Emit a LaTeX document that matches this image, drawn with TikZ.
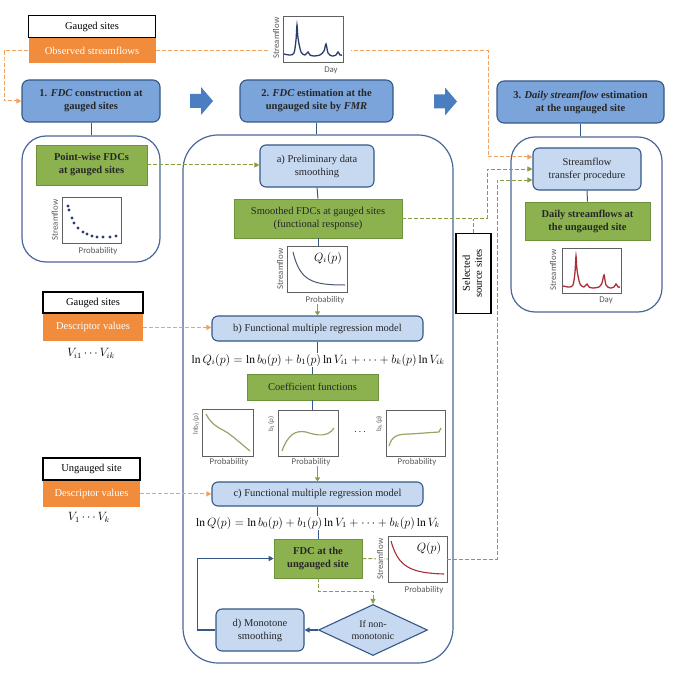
\documentclass[tikz,border=0pt]{standalone}
\usepackage{fontspec}
\usepackage{graphicx}
\setmainfont{Liberation Serif}
\newfontfamily\plotfont{Carlito}
\usetikzlibrary{shapes.geometric,calc,arrows.meta}

\definecolor{blueA}{RGB}{122,164,218}
\definecolor{blueL}{RGB}{198,217,241}
\definecolor{blueB}{RGB}{52,88,135}
\definecolor{contB}{RGB}{72,104,152}
\definecolor{greenF}{RGB}{140,178,80}
\definecolor{greenB}{RGB}{110,145,60}
\definecolor{greenD}{RGB}{135,158,72}
\definecolor{orangeF}{RGB}{240,140,60}
\definecolor{orangeD}{RGB}{240,162,96}
\definecolor{arrowB}{RGB}{74,126,193}
\definecolor{navyC}{RGB}{40,60,110}
\definecolor{redC}{RGB}{168,48,58}
\definecolor{khakiC}{RGB}{160,160,105}
\definecolor{labC}{RGB}{90,90,90}

\tikzset{
  stage/.style={draw=blueB, fill=blueA, line width=1.1pt, rounded corners=7pt,
    align=center, inner sep=2pt, text=black!85,
    font=\fontsize{10.5}{13}\selectfont\bfseries},
  substep/.style={draw=blueB, fill=blueL, line width=1.1pt, rounded corners=6pt,
    align=center, inner sep=2pt, text=black!85, font=\fontsize{10.5}{13}\selectfont},
  result/.style={draw=greenB, fill=greenF, line width=0.6pt, align=center,
    inner sep=2pt, text=black!85, font=\fontsize{10.5}{13}\selectfont},
  sitebox/.style={draw=black, line width=1.4pt, fill=white, inner sep=2pt,
    font=\fontsize{10.5}{13}\selectfont},
  databox/.style={fill=orangeF, text=white, inner sep=2pt,
    font=\fontsize{10.5}{13}\selectfont},
  panel/.style={draw=contB, line width=1.2pt, fill=white},
  frame/.style={draw=gray!75!black, line width=0.7pt, fill=white, inner sep=0pt},
  plotlab/.style={font=\plotfont\fontsize{8.8}{9}\selectfont, text=labC, inner sep=0pt},
  coeflab/.style={font=\plotfont\fontsize{7}{8}\selectfont, text=labC, inner sep=0pt},
  eqn/.style={inner sep=1pt, font=\fontsize{11.5}{13}\selectfont},
  link/.style={draw=blueB, line width=1pt},
  odash/.style={draw=orangeD, line width=1pt, dash pattern=on 4pt off 2pt,
    -{Triangle[length=5pt,width=5pt]}},
  gdash/.style={draw=greenD, line width=1pt, dash pattern=on 4pt off 2pt},
  garrow/.style={draw=greenD, line width=1pt, -{Triangle[length=4pt,width=5pt]}},
  fixarrow/.style={draw=blueB, line width=1.3pt, -{Triangle[length=5pt,width=5pt]}},
}

\begin{document}
\begin{tikzpicture}[x=1pt, y=-1pt]
\useasboundingbox (0,0) rectangle (676,695);

% Gauged sites with observed streamflows (top left)
\node[sitebox, minimum width=127pt, minimum height=22pt] (gsites) at (92,26.5) {Gauged sites};
\node[databox, minimum width=127pt, minimum height=25pt, anchor=north] (obsflow) at (gsites.south) {Observed streamflows};

% Stage titles
\node[stage, minimum width=138pt, minimum height=42pt] (stage1) at (91,101)
  {1. \textit{FDC} construction at\\gauged sites};
\node[stage, minimum width=153pt, minimum height=42pt] (stage2) at (316.5,101)
  {2. \textit{FDC} estimation at the\\ungauged site by \textit{FMR}};
\node[stage, minimum width=167pt, minimum height=42pt] (stage3) at (580.5,102)
  {3. \textit{Daily streamflow} estimation\\at the ungauged site};

% Block arrows between the stages
\fill[arrowB, shift={($(stage1.east)!0.5!(stage2.west)$)}]
  (-10,-7) -- (1,-7) -- (1,-14) -- (13,0) -- (1,14) -- (1,7) -- (-10,7) -- cycle;
\fill[arrowB, shift={($(stage2.east)!0.5!(stage3.west)$)}]
  (-11,-7) -- (0,-7) -- (0,-14) -- (12,0) -- (0,14) -- (0,7) -- (-11,7) -- cycle;

% Panels below the stages
\node[panel, rounded corners=24pt, minimum width=138pt, minimum height=126pt] (fdcpanel) at (91,199) {};
\node[panel, rounded corners=35pt, minimum width=270pt, minimum height=528pt] (estpanel) at (318,399) {};
\node[panel, rounded corners=24pt, minimum width=151pt, minimum height=175pt] (daypanel) at (586.5,224.5) {};
\draw[link] (stage1.south) -- (stage1.south |- fdcpanel.north);
\draw[link] (stage2.south) -- (stage2.south |- estpanel.north);
\draw[link] (stage3.south) -- (stage3.south |- daypanel.north);

% Step 3 boxes
\node[substep, minimum width=108pt, minimum height=42pt] (transfer) at (587,169)
  {Streamflow\\transfer procedure};
\node[result, font=\fontsize{10.5}{13}\selectfont\bfseries, minimum width=125pt, minimum height=38pt] (dailyflow) at (587.5,221)
  {Daily streamflows at\\the ungauged site};
\draw[link] (transfer.south) -- (dailyflow.north);

% Observed streamflows to stage 1 and to the transfer procedure
\coordinate (obsleft) at (4,60);
\coordinate (obsright) at (488,100);
\draw[odash] (obsflow.west) -| (obsleft) |- (stage1.west);
\draw[odash] (obsflow.east) -| (obsright) |- ($(transfer.west)+(0,-12)$);

% Hydrograph of observed streamflows
\fill[white] (268,14) rectangle (351,64);
\node[frame, minimum width=60pt, minimum height=46pt] (obshydro) at (313,39) {};
\draw[navyC, line width=1.3pt] plot[smooth, tension=0.5] coordinates {(284,54) (290,55) (294,53) (296,40) (297,25) (298,38) (301,52) (305,55) (308,52) (310,55) (314,56) (320,55) (324,51) (326,44) (328,53) (332,56) (336,55) (338,52) (340,55) (342,55)};
\node[plotlab, rotate=90] at (276,38) {Streamflow};
\node[plotlab] at (331,70) {Day};

% Step 1 panel: point-wise FDCs
\node[result, font=\fontsize{10.5}{13}\selectfont\bfseries, minimum width=111pt, minimum height=40pt] (pointwise) at (91.5,165)
  {Point-wise FDCs\\at gauged sites};
\node[frame, minimum width=59pt, minimum height=46pt] (pwplot) at (91.5,220) {};
\foreach \x/\y in {68/206, 69/210, 72/218, 74/223, 78/228, 83/232, 87/234, 92/236, 97/237, 103/237, 110/237, 116/236} {
  \fill[navyC] (\x,\y) circle (1.7pt);
}
\node[plotlab, rotate=90] at (55,220) {Streamflow};
\node[plotlab] at (98,251) {Probability};

% a) smoothing
\node[substep, minimum width=114pt, minimum height=42pt] (prelim) at (317,166)
  {a) Preliminary data\\smoothing};
\draw[gdash, -{Triangle[length=5pt,width=5pt]}] (pointwise.east) -- (pointwise.east -| prelim.west);
\node[result, minimum width=168pt, minimum height=39pt] (smooth) at (318,218.5)
  {Smoothed FDCs at gauged sites\\(functional response)};
\draw[link] (prelim.south) -- (smooth.north);
\node[frame, minimum width=60pt, minimum height=46pt] (qiplot) at (317,269) {};
\draw[link] (smooth.south) -- (smooth.south |- qiplot.north);
\draw[gray!40!navyC, line width=1pt] (293,252) .. controls (300,281) and (312,285) .. (345,285);
\node[eqn] at (328,258) {$Q_i(p)$};
\node[plotlab, rotate=90] at (280,269) {Streamflow};
\node[plotlab] (probqi) at (325,300) {Probability};

% Selected source sites
\node[draw=black, line width=1.4pt, fill=white, inner sep=1pt, minimum width=35pt, minimum height=80pt,
  font=\fontsize{10.5}{12}\selectfont] (sources) at (473.5,273.5)
  {\rotatebox{90}{\begin{tabular}{@{}c@{}}Selected\\source sites\end{tabular}}};
\coordinate (smright) at (487,190);
\draw[gdash, -{Triangle[length=5pt,width=5pt]}] (smooth.east) -| (smright) |- (transfer.west);
\draw[gdash] (sources.north) -- (sources.north |- smooth.east);

% Gauged sites descriptors
\node[sitebox, minimum width=100pt, minimum height=21pt] (gsites2) at (93,302.5) {Gauged sites};
\node[databox, minimum width=100pt, minimum height=27pt, anchor=north] (desc1) at (gsites2.south) {Descriptor values};
\node[eqn] at (91,353) {$V_{i1}\cdots V_{ik}$};

% b) regression model
\node[substep, minimum width=211pt, minimum height=25pt] (bstep) at (317.5,328.5)
  {b) Functional multiple regression model};
\draw[garrow] (probqi.south -| bstep.north) -- (bstep.north);
\draw[odash] (desc1.east) -- (desc1.east -| bstep.west);
\node[eqn] (eqgauged) at (318,360)
  {$\ln Q_i(p) = \ln b_0(p) + b_1(p)\ln V_{i1} + \cdots + b_k(p)\ln V_{ik}$};
\draw[link] (bstep.south) -- (bstep.south |- eqgauged.north);
\node[result, minimum width=131pt, minimum height=26pt] (coef) at (312.5,387) {Coefficient functions};
\draw[link] (eqgauged.south -| coef.north) -- (coef.north);

% Coefficient functions plots
\node[frame, minimum width=51pt, minimum height=47pt] (bplot0) at (227.5,432.5) {};
\node[frame, minimum width=60pt, minimum height=46pt] (bplot1) at (308,433) {};
\node[frame, minimum width=59pt, minimum height=46pt] (bplotk) at (415.5,433) {};
\draw[link] (coef.south) -- (coef.south |- bplot1.north);
\draw[khakiC, line width=1.2pt] (206,414) .. controls (212,426) and (220,428) .. (228,433) .. controls (236,439) and (244,446) .. (250,451);
\draw[khakiC, line width=1.2pt] (282,451) .. controls (288,434) and (296,430) .. (306,432) .. controls (318,436) and (328,437) .. (334,428);
\draw[khakiC, line width=1.2pt] (389,446) .. controls (392,436) and (397,434) .. (410,434) -- (439,432) -- (441,428);
\node[coeflab, rotate=90] at (196,424) {lnb$_0$(p)};
\node[coeflab, rotate=90] at (271,424) {b$_1$(p)};
\node[coeflab, rotate=90] at (379,424) {b$_k$(p)};
\node[inner sep=0pt] at (360,432) {$\cdots$};
\node[plotlab] at (229,462) {Probability};
\node[plotlab] (prob1) at (311,462) {Probability};
\node[plotlab] at (417,462) {Probability};

% Ungauged site descriptors
\node[sitebox, minimum width=97pt, minimum height=22pt] (usite) at (91.5,469) {Ungauged site};
\node[databox, minimum width=97pt, minimum height=26pt, anchor=north] (desc2) at (usite.south) {Descriptor values};
\node[eqn] at (89,517) {$V_1\cdots V_k$};

% c) regression model
\node[substep, minimum width=211pt, minimum height=24pt] (cstep) at (317.5,494)
  {c) Functional multiple regression model};
\draw[garrow] (prob1.south -| cstep.north) -- (cstep.north);
\draw[odash] (desc2.east) -- (desc2.east -| cstep.west);
\node[eqn] (equngauged) at (318,523)
  {$\ln Q(p) = \ln b_0(p) + b_1(p)\ln V_1 + \cdots + b_k(p)\ln V_k$};
\draw[link] (cstep.south) -- (cstep.south |- equngauged.north);

% FDC at the ungauged site
\node[result, font=\fontsize{10.5}{13}\selectfont\bfseries, minimum width=88pt, minimum height=39pt] (fdcung) at (318,558.5)
  {FDC at the\\ungauged site};
\draw[link] (equngauged.south -| fdcung.north) -- (fdcung.north);
\node[frame, minimum width=59pt, minimum height=46pt] (qplot) at (417.5,559) {};
\draw[gdash] (fdcung.east) -- (qplot.west);
\draw[redC, line width=1.1pt] (391,541) .. controls (398,566) and (409,573) .. (444,574);
\node[eqn] at (429,548) {$Q(p)$};
\node[plotlab, rotate=90, fill=white, inner ysep=1pt] at (380,559) {Streamflow};
\node[plotlab] at (424,590) {Probability};
\coordinate (qpright) at (497,400);
\draw[gdash, -{Triangle[length=5pt,width=5pt]}] (qplot.east) -| (qpright) |- ($(transfer.west)+(0,11)$);

% d) monotone smoothing loop
\node[substep, shape=diamond, rounded corners=0pt, aspect=2.2, inner sep=0pt, minimum width=109pt, minimum height=51pt,
  font=\fontsize{10}{12}\selectfont] (nonmono) at (373,630) {If non-\\monotonic};
\node[substep, minimum width=88pt, minimum height=42pt] (monotone) at (260,630)
  {d) Monotone\\smoothing};
\draw[gdash, -{Triangle[length=5pt,width=5pt]}] (fdcung.south) -- ++(0,13) -| (nonmono.north);
\draw[fixarrow] (nonmono.west) -- (monotone.east);
\draw[fixarrow] (monotone.west) -- ++(-18,0) |- (fdcung.west);

% Daily streamflows at the ungauged site
\node[frame, minimum width=59pt, minimum height=45pt] (dayplot) at (591.5,270.5) {};
\draw[redC, line width=1.3pt] plot[smooth, tension=0.5] coordinates {(563,286) (569,287) (573,285) (575,272) (576,256) (577,270) (580,284) (584,287) (587,284) (589,287) (593,288) (599,287) (602,283) (604,275) (606,285) (610,288) (614,287) (616,284) (618,287) (620,287)};
\node[plotlab, rotate=90] at (553,270) {Streamflow};
\node[plotlab] at (606,300) {Day};

\end{tikzpicture}
\end{document}
